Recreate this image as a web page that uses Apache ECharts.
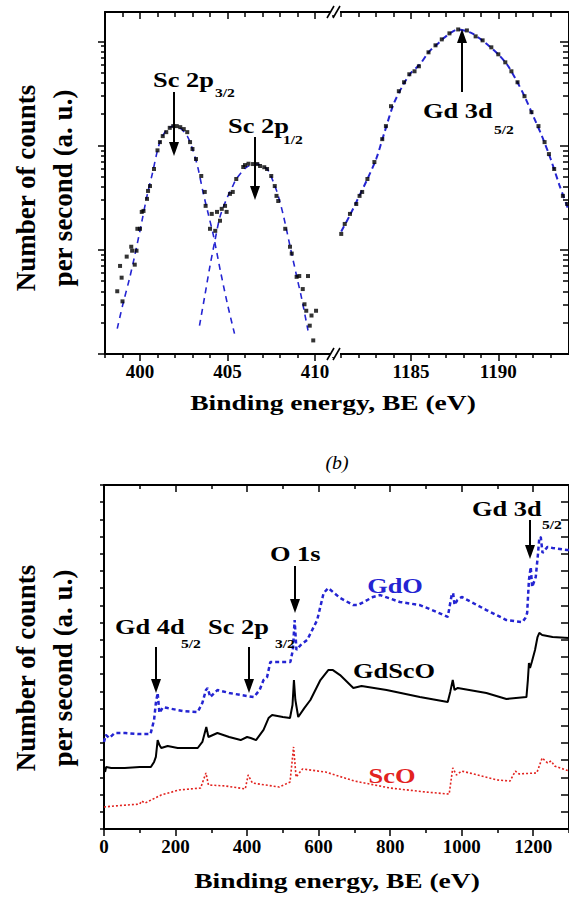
<!DOCTYPE html>
<html><head><meta charset="utf-8">
<script src="https://cdn.jsdelivr.net/npm/echarts@6/dist/echarts.min.js"></script>
<style>html,body{margin:0;padding:0;background:#fff}#c{width:569px;height:897px}</style>
</head><body><div id="c"></div>
<script>
// ---------- Panel (a): high-resolution spectra [BE eV, counts (log)] ----------
const scPoints = [[398.7,40],[398.86,70],[398.95,54],[399.0,32],[399.24,86],[399.5,107],[399.55,98],[399.7,72],[399.8,98],[399.85,159],[400.0,159],[400.1,231],[400.2,236],[400.4,308],[400.46,367],[400.57,409],[400.8,596],[401.0,900],[401.14,1080],[401.3,1233],[401.5,1346],[401.7,1480],[401.9,1538],[402.1,1538],[402.3,1503],[402.5,1440],[402.7,1346],[402.86,1080],[403.0,927],[403.2,743],[403.5,511],[403.7,359],[403.75,264],[404.0,159],[404.1,221],[404.3,152],[404.4,231],[404.57,190],[404.67,247],[404.86,264],[404.95,231],[405.14,344],[405.3,359],[405.5,478],[405.9,623],[406.0,650],[406.2,670],[406.46,665],[406.7,665],[406.86,637],[407.1,620],[407.26,596],[407.5,511],[407.7,409],[407.8,329],[407.9,294],[408.3,159],[408.57,107],[408.67,92],[408.95,55],[409.1,56],[409.3,42],[409.4,30],[409.5,26],[409.6,56],[409.7,18.7],[409.8,23.4],[409.9,13.5],[410.06,26]];
const sc32Fit = [[398.7,17.5],[399.0,29],[399.4,53],[399.7,88],[400.1,185],[400.4,329],[400.7,533],[401.1,1033],[401.5,1406],[401.9,1538],[402.3,1469],[402.7,1233],[403.0,927],[403.3,623],[403.6,359],[403.9,221],[404.2,136],[404.6,62],[405.0,30],[405.4,15.7]];
const sc12Fit = [[403.4,18.7],[403.7,36],[404.0,70],[404.3,127],[404.57,207],[404.95,308],[405.3,409],[405.5,478],[406.1,623],[406.67,665],[407.26,596],[407.6,457],[407.9,329],[408.2,211],[408.57,109],[408.95,56],[409.24,34],[409.6,16.8]];
const gdPoints = [[1181.0,142],[1181.2,177],[1181.5,221],[1181.86,275],[1182.05,329],[1182.2,359],[1182.5,478],[1182.9,695],[1183.35,1153],[1183.56,1538],[1183.85,2388],[1184.3,3325],[1184.6,4053],[1184.9,4834],[1185.2,5164],[1185.45,5768],[1186.0,7852],[1186.4,9165],[1186.76,10450],[1187.2,11940],[1187.7,13020],[1188.2,12740],[1188.7,11170],[1189.1,10230],[1189.6,8770],[1190.0,7516],[1190.4,6295],[1190.75,5164],[1191.1,4053],[1191.5,2978],[1191.9,2094],[1192.3,1538],[1192.65,1080],[1192.9,829],[1193.2,596],[1193.7,329],[1193.95,275]];
const gdFit = [[1181.0,150],[1181.5,215],[1182.0,320],[1182.5,478],[1183.0,743],[1183.5,1376],[1184.0,2500],[1184.5,3700],[1185.0,5000],[1185.5,6000],[1186.0,7850],[1186.5,9400],[1187.0,11170],[1187.7,13020],[1188.5,11940],[1189.0,10450],[1189.5,8950],[1190.0,7500],[1190.5,6000],[1191.0,4340],[1191.5,2980],[1192.0,1920],[1192.5,1233],[1193.0,743],[1193.5,418],[1194.0,247]];
const scTicks = [400,405,410];
const scMinorTicks = [398,399,401,402,403,404,406,407,408,409,411];
const gdTicks = [1185,1190];
const gdMinorTicks = [1181,1182,1183,1184,1186,1187,1188,1189,1191,1192,1193];
const logMajorTicks = [10,100,1000,10000];
const logMinorTicks = [20,30,40,50,60,70,80,90,200,300,400,500,600,700,800,900,2000,3000,4000,5000,6000,7000,8000,9000];

// ---------- Panel (b): survey spectra [BE eV, counts (a.u.)] ----------
const gdoSurvey = [[0,5.06],[5,5.47],[15,5.29],[30,5.58],[60,5.58],[100,5.52],[130,5.52],[140,6.34],[145,7.33],[150,7.91],[155,6.74],[165,7.09],[178,7.03],[220,6.86],[262,6.80],[275,7.33],[285,8.08],[290,8.20],[297,7.67],[317,8.08],[350,7.91],[382,7.79],[419,7.67],[435,8.08],[446,8.66],[456,8.84],[465,9.71],[500,9.71],[521,9.71],[528,10.41],[533,12.15],[538,10.41],[550,10.70],[568,10.99],[585,11.69],[596,12.15],[614,13.72],[627,14.01],[640,13.78],[660,13.43],[697,13.02],[710,13.02],[752,13.49],[772,13.60],[827,13.20],[883,13.02],[930,12.62],[961,12.33],[967,13.02],[972,13.60],[976,13.72],[980,13.02],[988,13.31],[1000,13.49],[1069,12.73],[1125,12.15],[1170,12.03],[1178,12.27],[1183,12.56],[1188,14.48],[1193,15.23],[1197,14.07],[1207,14.65],[1213,15.93],[1217,16.92],[1221,16.98],[1226,16.05],[1240,16.40],[1254,16.34],[1295,16.22],[1300,16.22]];
const gdscoSurvey = [[3,3.31],[6,3.60],[20,3.55],[58,3.55],[100,3.60],[131,3.60],[140,3.90],[145,4.19],[150,5.17],[155,4.88],[160,4.71],[178,4.83],[206,4.71],[262,4.71],[275,5.06],[286,5.93],[292,5.35],[317,5.58],[350,5.35],[382,5.17],[400,5.35],[410,5.29],[425,5.17],[446,5.76],[460,6.45],[470,6.63],[500,6.51],[520,6.45],[527,7.21],[531,8.66],[535,7.50],[543,6.51],[560,7.03],[577,7.50],[605,8.66],[627,9.24],[640,9.24],[660,8.95],[697,8.20],[720,8.31],[790,8.08],[883,7.67],[961,7.38],[968,7.97],[975,8.66],[980,8.08],[989,8.20],[1069,7.91],[1125,7.56],[1181,7.67],[1185,8.66],[1188,9.65],[1191,9.36],[1196,9.71],[1205,10.41],[1212,11.16],[1217,11.40],[1225,11.28],[1254,11.16],[1300,11.10]];
const scoSurvey = [[0,1.28],[30,1.34],[100,1.45],[105,1.63],[115,1.51],[160,1.98],[210,2.27],[270,2.38],[285,3.26],[292,2.56],[340,2.50],[395,2.33],[403,3.14],[415,2.67],[490,2.44],[520,2.73],[530,4.77],[537,3.02],[555,3.49],[620,3.31],[700,2.79],[800,2.38],[900,2.15],[965,2.03],[975,3.55],[985,3.14],[1000,3.37],[1100,2.85],[1135,2.79],[1150,3.37],[1160,3.20],[1210,3.26],[1225,4.13],[1240,3.84],[1250,3.95],[1260,3.66],[1300,3.37]];
const surveyTicks = [0,200,400,600,800,1000,1200];
const surveyMinorTicks = [100,300,500,700,900,1100,1300];

const FONT = 'Liberation Serif';
const BLACK = '#000';
const BLUE = '#2424d2';
const RED = '#e2231f';

function xAx(grid, pos, min, max, ticks, opt) {
  return {
    type: 'value', gridIndex: grid, position: pos, min, max,
    axisLine: { show: !!opt.line, onZero: false, lineStyle: { color: BLACK, width: 2 } },
    axisTick: { show: true, inside: !!opt.inside, length: opt.len, customValues: ticks, lineStyle: { color: BLACK, width: 1.5 } },
    axisLabel: opt.label ? { show: true, customValues: ticks, formatter: v => String(v), color: BLACK, fontFamily: FONT, fontWeight: 'bold', fontSize: 19, margin: 8 } : { show: false },
    splitLine: { show: false }
  };
}
function yAx(grid, pos, type, min, max, opt) {
  const a = {
    type, gridIndex: grid, position: pos, min, max,
    axisLine: { show: !!opt.line, onZero: false, lineStyle: { color: BLACK, width: 2 } },
    axisTick: { show: opt.len > 0, inside: !!opt.inside, length: opt.len, lineStyle: { color: BLACK, width: 1.5 } },
    axisLabel: { show: false },
    splitLine: { show: false }
  };
  if (opt.ticks) a.axisTick.customValues = opt.ticks;
  if (opt.interval) a.interval = opt.interval;
  if (type === 'log') a.logBase = 10;
  return a;
}

function txt(x, y, text, size, o) {
  o = o || {};
  const style = {
    text, fill: o.color || BLACK,
    fontFamily: FONT, fontSize: size, fontWeight: o.weight || 'bold', fontStyle: o.italic ? 'italic' : 'normal',
    textAlign: o.align || 'left', align: o.align || 'left', textVerticalAlign: 'middle', verticalAlign: 'middle'
  };
  return { type: 'text', x, y, rotation: o.rot || 0, scaleX: o.sx == null ? 1.2 : o.sx, z: 100, style };
}
function arrow(x, yFrom, yTo) {
  const dir = yTo > yFrom ? 1 : -1;
  const yb = yTo - dir * 14;
  return [
    { type: 'line', z: 100, shape: { x1: x, y1: yFrom, x2: x, y2: yb }, style: { stroke: BLACK, lineWidth: 2 } },
    { type: 'polygon', z: 100, shape: { points: [[x - 5, yb], [x + 5, yb], [x, yTo]] }, style: { fill: BLACK } }
  ];
}
function brk(y) {
  return [
    { type: 'rect', z: 99, shape: { x: 331, y: y - 3, width: 9, height: 6 }, style: { fill: '#fff' } },
    { type: 'line', z: 100, shape: { x1: 327, y1: y + 6, x2: 334, y2: y - 6 }, style: { stroke: BLACK, lineWidth: 1.6 } },
    { type: 'line', z: 100, shape: { x1: 333, y1: y + 6, x2: 340, y2: y - 6 }, style: { stroke: BLACK, lineWidth: 1.6 } }
  ];
}

const LMIN = 398, LMAX = 411.2, RMIN = 1180.7, RMAX = 1194.05, YMIN = 10, YMAX = 19140;
const LOGMIN = Math.log10(YMIN), LOGMAX = Math.log10(YMAX);
const logMajorPos = logMajorTicks.map(Math.log10);
const logMinorPos = logMinorTicks.map(Math.log10);

const option = {
  animation: false,
  backgroundColor: '#fff',
  grid: [
    { left: 105, top: 12, width: 231, height: 342 },
    { left: 336, top: 12, width: 235, height: 342 },
    { left: 104, top: 485, width: 467, height: 344 }
  ],
  xAxis: [
    xAx(0, 'bottom', LMIN, LMAX, scTicks, { line: true, len: 7, label: true }),
    xAx(0, 'bottom', LMIN, LMAX, scMinorTicks, { len: 4 }),
    xAx(0, 'top', LMIN, LMAX, scTicks, { line: true, inside: true, len: 7 }),
    xAx(0, 'top', LMIN, LMAX, scMinorTicks, { inside: true, len: 5 }),
    xAx(1, 'bottom', RMIN, RMAX, gdTicks, { line: true, len: 7, label: true }),
    xAx(1, 'bottom', RMIN, RMAX, gdMinorTicks, { len: 4 }),
    xAx(1, 'top', RMIN, RMAX, gdTicks, { line: true, inside: true, len: 7 }),
    xAx(1, 'top', RMIN, RMAX, gdMinorTicks, { inside: true, len: 5 }),
    xAx(2, 'bottom', 0, 1300, surveyTicks, { line: true, len: 7, label: true }),
    xAx(2, 'bottom', 0, 1300, surveyMinorTicks, { len: 4 }),
    xAx(2, 'top', 0, 1300, surveyTicks, { line: true, inside: true, len: 7 }),
    xAx(2, 'top', 0, 1300, surveyMinorTicks, { inside: true, len: 4 })
  ],
  yAxis: [
    yAx(0, 'left', 'log', YMIN, YMAX, { line: true, len: 0 }),
    yAx(1, 'right', 'log', YMIN, YMAX, { line: true, len: 0 }),
    yAx(0, 'left', 'value', LOGMIN, LOGMAX, { len: 7, ticks: logMajorPos }),
    yAx(0, 'left', 'value', LOGMIN, LOGMAX, { len: 4, ticks: logMinorPos }),
    yAx(1, 'right', 'value', LOGMIN, LOGMAX, { inside: true, len: 9, ticks: logMajorPos }),
    yAx(1, 'right', 'value', LOGMIN, LOGMAX, { inside: true, len: 6, ticks: logMinorPos }),
    yAx(2, 'left', 'value', 0, 20, { line: true, len: 4, interval: 1 }),
    yAx(2, 'right', 'value', 0, 20, { line: true, inside: true, len: 8, interval: 1 })
  ],
  series: [
    { type: 'line', xAxisIndex: 0, yAxisIndex: 0, data: sc32Fit, smooth: 0.3, showSymbol: false, z: 2, lineStyle: { color: BLUE, width: 1.6, type: [6, 5] } },
    { type: 'line', xAxisIndex: 0, yAxisIndex: 0, data: sc12Fit, smooth: 0.3, showSymbol: false, z: 2, lineStyle: { color: BLUE, width: 1.6, type: [6, 5] } },
    { type: 'scatter', xAxisIndex: 0, yAxisIndex: 0, data: scPoints, symbol: 'rect', symbolSize: 4, z: 3, itemStyle: { color: BLACK } },
    { type: 'line', xAxisIndex: 4, yAxisIndex: 1, data: gdFit, smooth: 0.3, showSymbol: false, clip: true, z: 2, lineStyle: { color: BLUE, width: 2, type: [6, 4] } },
    { type: 'scatter', xAxisIndex: 4, yAxisIndex: 1, data: gdPoints, symbol: 'rect', symbolSize: 4, clip: true, z: 3, itemStyle: { color: BLACK } },
    { type: 'line', xAxisIndex: 8, yAxisIndex: 6, data: gdoSurvey, showSymbol: false, lineStyle: { color: BLUE, width: 2.5, type: [4, 3] } },
    { type: 'line', xAxisIndex: 8, yAxisIndex: 6, data: gdscoSurvey, showSymbol: false, lineStyle: { color: BLACK, width: 2 } },
    { type: 'line', xAxisIndex: 8, yAxisIndex: 6, data: scoSurvey, showSymbol: false, lineStyle: { color: RED, width: 1.6, type: [2, 2] } }
  ],
  graphic: { elements: [].concat(
    brk(12), brk(354),
    [txt(153, 79, 'Sc 2p', 22), txt(215, 92, '3/2', 13)], arrow(174, 92, 156),
    [txt(228, 125, 'Sc 2p', 22), txt(283, 139, '1/2', 13)], arrow(255, 137, 200),
    [txt(423, 110, 'Gd 3d', 22), txt(494, 129, '5/2', 13)], arrow(462, 92, 29),
    [txt(333, 402, 'Binding energy, BE (eV)', 22, { align: 'center', sx: 1.25 })],
    [txt(26, 188, 'Number of counts', 27, { align: 'center', sx: 1, rot: Math.PI / 2 }),
     txt(63, 188, 'per second (a. u.)', 27, { align: 'center', sx: 1, rot: Math.PI / 2 })],
    [txt(337, 463, '(b)', 18, { align: 'center', sx: 1.1, italic: true, weight: 'normal' })],
    [txt(115, 626, 'Gd 4d', 22), txt(181, 643, '5/2', 13)], arrow(156, 647, 693),
    [txt(208, 626, 'Sc 2p', 22), txt(275, 643, '3/2', 13)], arrow(249, 647, 693),
    [txt(270, 553, 'O 1s', 22)], arrow(295, 566, 613),
    [txt(472, 508, 'Gd 3d', 22), txt(542, 524, '5/2', 13)], arrow(530, 520, 559),
    [txt(395, 585, 'GdO', 22, { align: 'center', color: BLUE }),
     txt(394, 670, 'GdScO', 22, { align: 'center' }),
     txt(392, 775, 'ScO', 22, { align: 'center', color: RED })],
    [txt(337, 880, 'Binding energy, BE (eV)', 22, { align: 'center', sx: 1.25 })],
    [txt(26, 668, 'Number of counts', 27, { align: 'center', sx: 1, rot: Math.PI / 2 }),
     txt(63, 668, 'per second (a. u.)', 27, { align: 'center', sx: 1, rot: Math.PI / 2 })]
  ) }
};

const chart = echarts.init(document.getElementById('c'), null, { renderer: 'svg', width: 569, height: 897 });
chart.setOption(option);
</script>
</body></html>
